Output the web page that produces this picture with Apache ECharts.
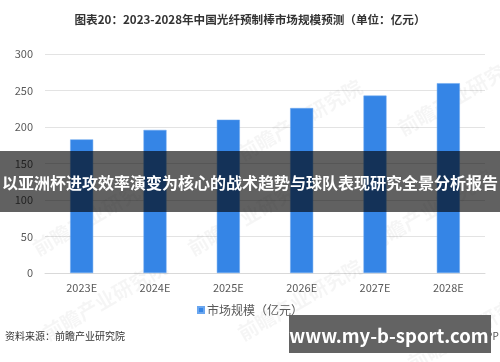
<!DOCTYPE html>
<html><head><meta charset="utf-8">
<script src="https://cdn.jsdelivr.net/npm/echarts@6/dist/echarts.min.js"></script>
<style>html,body{margin:0;padding:0;background:#fff}#c{width:500px;height:362px}</style>
</head><body><div id="c"></div>
<script>
const categories = ['2023E','2024E','2025E','2026E','2027E','2028E'];
const marketSize = [183, 196, 210, 226, 243, 260];
const seriesName = '市场规模（亿元）';
const titleText = '图表20：2023-2028年中国光纤预制棒市场规模预测（单位：亿元）';
const sourceText = '资料来源：前瞻产业研究院';
const bannerText = '以亚洲杯进攻效率演变为核心的战术趋势与球队表现研究全景分析报告';
const siteText = 'www.my-b-sport.com';

const font = '"Noto Sans CJK SC", "Noto Sans", sans-serif';
const chart = echarts.init(document.getElementById('c'), null, {renderer: 'canvas'});

const wm = [[95,215],[300,120],[460,95],[105,300],[300,300],[470,330],[250,215],[430,210]].map(p => ({
  type: 'text', x: p[0], y: p[1], rotation: Math.PI/6, z: 1, silent: true,
  style: {text: '前瞻产业研究院', fill: 'rgba(0,0,0,0.04)', font: 'bold 20px ' + font, align: 'center', verticalAlign: 'middle'}
}));

chart.setOption({
  animation: false,
  title: {text: titleText, left: 'center', top: 9,
    textStyle: {fontFamily: font, fontSize: 11.6, fontWeight: 'bold', color: '#333'}},
  grid: {left: 45, right: 15, top: 54, bottom: 89, containLabel: false},
  xAxis: {type: 'category', data: categories,
    axisLine: {lineStyle: {color: '#d9d9d9', width: 1}},
    axisTick: {show: false},
    axisLabel: {color: '#595959', fontSize: 11, fontFamily: font, margin: 9}},
  yAxis: {type: 'value', min: 0, max: 300, interval: 50,
    axisLine: {show: false}, axisTick: {show: false},
    splitLine: {lineStyle: {color: '#e3e3e3', width: 1}},
    axisLabel: {color: '#595959', fontSize: 11, fontFamily: font, margin: 12}},
  legend: {bottom: 41, left: 'center', itemWidth: 6, itemHeight: 6, itemGap: 4,
    icon: 'rect', data: [seriesName],
    textStyle: {color: '#595959', fontSize: 12, fontFamily: font, padding: [0,0,0,-2]}},
  series: [{name: seriesName, type: 'bar', data: marketSize, barWidth: 23,
    itemStyle: {color: '#3585e6', borderColor: '#6aa6ef', borderWidth: 0.5}}],
  graphic: wm.concat([
    {type: 'text', left: 5, top: 331, z: 50,
      style: {text: sourceText, fill: '#333', font: '10px ' + font}},
    {type: 'text', left: 420, top: 331, z: 50,
      style: {text: '前瞻经济学人APP', fill: '#555', font: '10px ' + font}},
    {type: 'rect', left: 0, top: 151, z: 100,
      shape: {width: 500, height: 61},
      style: {fill: 'rgba(0,0,0,0.62)'}},
    {type: 'text', x: 250, y: 183, z: 101,
      style: {text: bannerText, fill: '#fff', font: 'bold 16px ' + font, align: 'center', verticalAlign: 'middle'}},
    {type: 'rect', left: 289, top: 315, z: 100,
      shape: {width: 202, height: 38},
      style: {fill: '#636363'}},
    {type: 'text', x: 389, y: 336, z: 101,
      style: {text: siteText, fill: '#fff', font: 'bold 18.5px ' + font, align: 'center', verticalAlign: 'middle'}}
  ])
});
</script></body></html>
